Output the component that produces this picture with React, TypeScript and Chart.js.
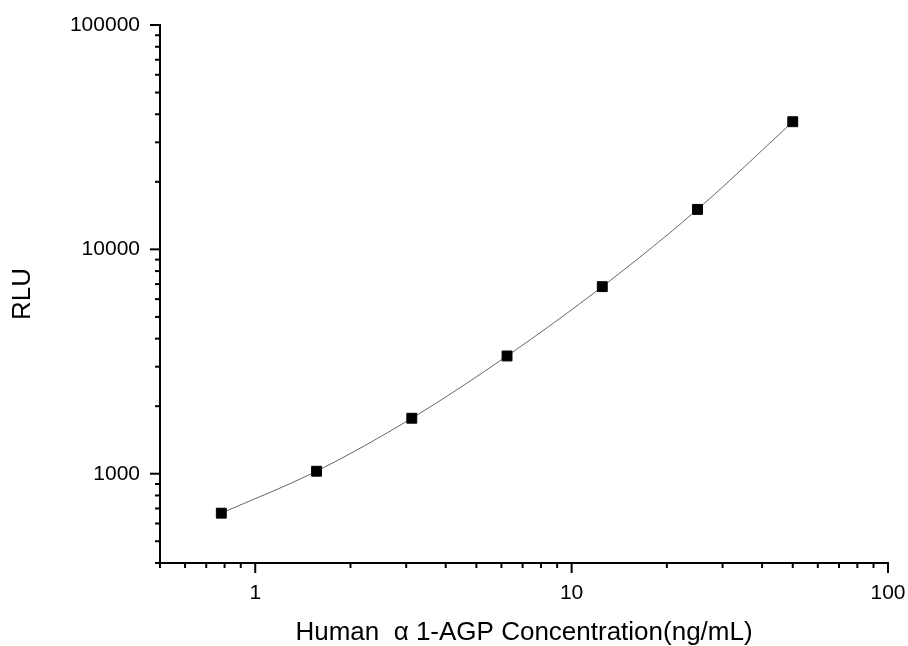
import React, { useEffect, useRef } from 'react';
import { Chart, registerables } from 'chart.js';

Chart.register(...registerables);

const concentrations = [0.78125, 1.5625, 3.125, 6.25, 12.5, 25, 50];
const rluValues = [667, 1026, 1767, 3348, 6820, 15070, 37060];
const xMajorTicks = [1, 10, 100];
const xTickLabels = ['1', '10', '100'];
const yMajorTicks = [1000, 10000, 100000];
const yTickLabels = ['1000', '10000', '100000'];
const xRange = [0.5, 100];
const yRange = [400, 100000];
const xTitle = 'Human  α 1-AGP Concentration(ng/mL)';
const yTitle = 'RLU';

const FONT = "'Liberation Sans', Arial, sans-serif";

function isMajor(v: number, majors: number[]) {
  return majors.some((t) => Math.abs(t - v) < 1e-9 * t);
}

function logTicks(min: number, max: number, majors: number[]) {
  const ticks: { value: number; major: boolean }[] = [];
  const lo = Math.floor(Math.log10(min));
  const hi = Math.ceil(Math.log10(max));
  for (let e = lo; e <= hi; e++) {
    for (let m = 1; m <= 9; m++) {
      const v = parseFloat((m * Math.pow(10, e)).toPrecision(12));
      if (v >= min * (1 - 1e-9) && v <= max * (1 + 1e-9)) {
        ticks.push({ value: v, major: isMajor(v, majors) });
      }
    }
  }
  return ticks;
}

function labelFor(v: number, majors: number[], labels: string[]) {
  const i = majors.findIndex((t) => Math.abs(t - v) < 1e-9 * t);
  return i >= 0 ? labels[i] : '';
}

const tickMarkPlugin = {
  id: 'logTickMarks',
  afterDraw(chart: any) {
    const ctx = chart.ctx;
    const xs = chart.scales.x;
    const ys = chart.scales.y;
    ctx.save();
    ctx.strokeStyle = '#000';
    ctx.lineWidth = 2;
    xs.ticks.forEach((t: any) => {
      const p = xs.getPixelForValue(t.value);
      const len = t.major ? 10 : 5;
      ctx.beginPath();
      ctx.moveTo(p, xs.top);
      ctx.lineTo(p, xs.top + len);
      ctx.stroke();
    });
    ys.ticks.forEach((t: any) => {
      const p = ys.getPixelForValue(t.value);
      const len = t.major ? 10 : 5;
      ctx.beginPath();
      ctx.moveTo(ys.right, p);
      ctx.lineTo(ys.right - len, p);
      ctx.stroke();
    });
    ctx.restore();
  },
};

export default function App() {
  const canvasRef = useRef<HTMLCanvasElement | null>(null);

  useEffect(() => {
    if (!canvasRef.current) return;
    const chart = new Chart(canvasRef.current, {
      type: 'line',
      data: {
        datasets: [
          {
            data: concentrations.map((x, i) => ({ x, y: rluValues[i] })),
            borderColor: '#666666',
            borderWidth: 1,
            cubicInterpolationMode: 'monotone',
            pointStyle: 'rect',
            pointRadius: 7,
            pointBorderWidth: 1,
            pointBackgroundColor: '#000',
            pointBorderColor: '#000',
            fill: false,
          },
        ],
      },
      options: {
        animation: false,
        responsive: true,
        maintainAspectRatio: false,
        layout: { padding: { top: 25, right: 20, bottom: 0, left: 0 } },
        plugins: {
          legend: { display: false },
          tooltip: { enabled: false },
        },
        scales: {
          x: {
            type: 'logarithmic',
            min: xRange[0],
            max: xRange[1],
            afterBuildTicks: (scale: any) => {
              scale.ticks = logTicks(xRange[0], xRange[1], xMajorTicks);
            },
            afterFit: (scale: any) => {
              scale.height = 83;
              scale.paddingLeft = 0;
              scale.paddingRight = 0;
            },
            grid: { display: false, drawTicks: true, tickLength: 10 },
            border: { display: true, color: '#000', width: 2 },
            ticks: {
              autoSkip: false,
              maxRotation: 0,
              padding: 8,
              color: '#000',
              font: { family: FONT, size: 21 },
              callback: (v: any) => labelFor(Number(v), xMajorTicks, xTickLabels),
            },
            title: {
              display: true,
              text: xTitle,
              color: '#000',
              font: { family: FONT, size: 26 },
              padding: { top: 0, bottom: -2 },
            },
          },
          y: {
            type: 'logarithmic',
            min: yRange[0],
            max: yRange[1],
            afterBuildTicks: (scale: any) => {
              scale.ticks = logTicks(yRange[0], yRange[1], yMajorTicks);
            },
            afterFit: (scale: any) => {
              scale.width = 160;
              scale.paddingTop = 0;
              scale.paddingBottom = 0;
            },
            grid: { display: false, drawTicks: true, tickLength: 10 },
            border: { display: true, color: '#000', width: 2 },
            ticks: {
              autoSkip: false,
              padding: 10,
              color: '#000',
              font: { family: FONT, size: 21 },
              callback: (v: any) => labelFor(Number(v), yMajorTicks, yTickLabels),
            },
            title: {
              display: true,
              text: yTitle,
              color: '#000',
              font: { family: FONT, size: 26 },
              padding: { top: 7, bottom: 0 },
            },
          },
        },
      },
      plugins: [tickMarkPlugin],
    } as any);
    return () => chart.destroy();
  }, []);

  return (
    <div style={{ position: 'fixed', left: 0, top: 0, width: 908, height: 646, background: '#fff' }}>
      <canvas ref={canvasRef} />
    </div>
  );
}
